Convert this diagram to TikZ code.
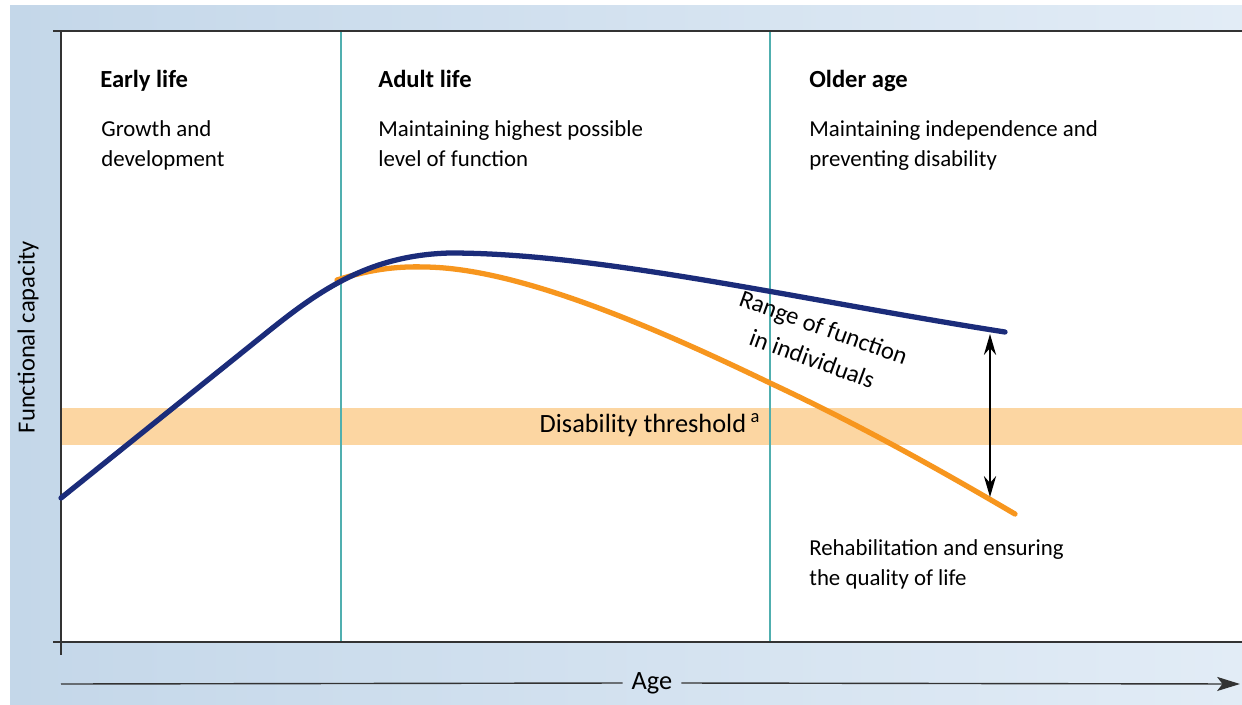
\documentclass[tikz,border=0pt]{standalone}
\usepackage{fontspec}
\setmainfont{Carlito}
\usepackage{xcolor}
\usetikzlibrary{arrows.meta}
\definecolor{navy}{RGB}{27,44,122}
\definecolor{amber}{RGB}{247,150,30}
\definecolor{sand}{RGB}{252,214,162}
\definecolor{tealline}{RGB}{80,175,175}
\definecolor{skyleft}{RGB}{196,215,233}
\definecolor{skyright}{RGB}{226,236,246}

\begin{document}
\begin{tikzpicture}[x=0.02cm, y=-0.02cm,
  heading/.style={anchor=base west, inner sep=0pt, font=\fontsize{14}{17}\selectfont\bfseries},
  remark/.style={anchor=north west, inner sep=0pt, align=left, font=\fontsize{13}{17}\selectfont},
  axisline/.style={draw=black!80, line width=0.8pt},
  divider/.style={draw=tealline, line width=0.6pt},
  curve/.style={line width=3pt, line cap=round}]
\useasboundingbox (0,0) rectangle (1242,704);

% Background and plot area
\shade[left color=skyleft, right color=skyright] (10,5) rectangle (1242,704);
\fill[white] (61,31) rectangle (1242,642);

% Disability band
\fill[sand] (61,408) rectangle (1242,445);
\node[font=\fontsize{15}{18}\selectfont] (thresh) at (650,425) {Disability threshold\,\textsuperscript{a}};

% Stage dividers
\draw[divider] (341,31) -- (341,642);
\draw[divider] (770,31) -- (770,642);

% Axes
\draw[axisline] (53,31) -- (1242,31);
\draw[axisline] (53,642) -- (1242,642);
\draw[axisline] (61,31) -- (61,655);

% Stages
\node[heading] (early) at (100,87) {Early life};
\node[remark] at (101,120) {Growth and\\development};
\node[heading] (adult) at (378,87) {Adult life};
\node[remark] at (378,120) {Maintaining highest possible\\level of function};
\node[heading] (older) at (809,87) {Older age};
\node[remark] at (809,120) {Maintaining independence and\\preventing disability};
\node[remark] at (809,539) {Rehabilitation and ensuring\\the quality of life};

% Curves
\draw[curve, amber] (337,280) .. controls (368,270) and (395,266) .. (425,267)
  .. controls (520,268) and (660,330) .. (770,383) .. controls (860,425) and (940,470) .. (1015,514);
\draw[curve, navy] (61,498) -- (270,330) .. controls (320,290) and (370,255) .. (450,253)
  .. controls (600,253) and (800,300) .. (1005,332);

% Range of function
\coordinate (rtop) at (990,334);
\coordinate (rbot) at (990,497);
\draw[{Stealth[length=12pt,width=7pt,inset=4pt]}-{Stealth[length=12pt,width=7pt,inset=4pt]}, thick] (rtop) -- (rbot);
\node[rotate=-20, align=center, font=\fontsize{14}{19}\selectfont] (range) at (818,343) {Range of function\\in individuals};

% Axis labels
\node[rotate=90, font=\fontsize{14}{17}\selectfont] (fc) at (28,337) {Functional capacity};
\node[font=\fontsize{15}{18}\selectfont, inner sep=5pt] (age) at (652,683) {Age};
\coordinate (agestart) at (61,684);
\coordinate (ageend) at (1240,684);
\draw[axisline] (agestart) -- (age.west);
\draw[axisline, -{Stealth[length=13pt,width=8pt,inset=3pt]}] (age.east) -- (ageend);
\end{tikzpicture}
\end{document}
